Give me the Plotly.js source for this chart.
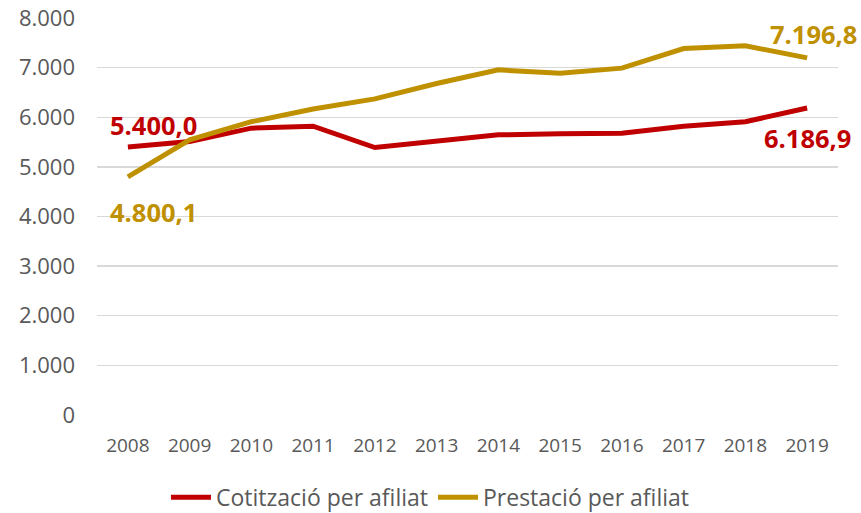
<!DOCTYPE html>
<html>
<head>
<meta charset="utf-8">
<script src="https://cdn.plot.ly/plotly-3.0.1.min.js"></script>
<style>html,body{margin:0;padding:0;background:#fff;}#chart{width:861px;height:513px;}</style>
</head>
<body>
<div id="chart"></div>
<script>
const years = ['2008','2009','2010','2011','2012','2013','2014','2015','2016','2017','2018','2019'];
const cotitzacio = [5400.0, 5510, 5780, 5820, 5390, 5510, 5645, 5665, 5680, 5820, 5910, 6186.9];
const prestacio = [4800.1, 5545, 5910, 6165, 6370, 6680, 6955, 6885, 6990, 7385, 7440, 7196.8];
const seriesNames = ['Cotització per afiliat', 'Prestació per afiliat'];
const labelCot = ['5.400,0', '6.186,9'];
const labelPre = ['4.800,1', '7.196,8'];

const red = '#C00000', gold = '#BF9000';
const traces = [
  {x: years, y: cotitzacio, name: seriesNames[0], type: 'scatter', mode: 'lines',
   line: {color: red, width: 5}},
  {x: years, y: prestacio, name: seriesNames[1], type: 'scatter', mode: 'lines',
   line: {color: gold, width: 5}}
];
function ann(idx, yv, txt, color, xa, ya, xs, ys) {
  return {xref: 'x', yref: 'y', x: idx, y: yv, text: '<b>' + txt + '</b>', showarrow: false,
    xanchor: xa, yanchor: ya, xshift: xs, yshift: ys,
    font: {family: 'Open Sans, sans-serif', size: 25.5, color: color}};
}
const last = years.length - 1;
const annotations = [
  ann(0, cotitzacio[0], labelCot[0], red, 'left', 'bottom', -20, 3),
  ann(last, cotitzacio[last], labelCot[1], red, 'left', 'top', -45, -11),
  ann(0, prestacio[0], labelPre[0], gold, 'left', 'top', -20, -16),
  ann(last, prestacio[last], labelPre[1], gold, 'left', 'bottom', -39, 5)
];
const layout = {
  width: 861, height: 513,
  margin: {l: 97, r: 23, t: 18, b: 98, autoexpand: false},
  paper_bgcolor: '#fff', plot_bgcolor: '#fff',
  separators: ',.',
  font: {family: 'Open Sans, sans-serif', size: 16, color: '#595959'},
  xaxis: {type: 'category', range: [-0.5, 11.5], showgrid: false, zeroline: false,
          showline: false, ticks: '', ticklabelstandoff: 17,
          tickfont: {size: 19, color: '#595959'}, fixedrange: true},
  yaxis: {range: [0, 8000], dtick: 1000, tickformat: ',', showgrid: true, gridcolor: '#D9D9D9',
          gridwidth: 1.3, zeroline: false, showline: false, ticks: '', ticklabelstandoff: 21,
          tickfont: {size: 22, color: '#595959'}, fixedrange: true},
  showlegend: true,
  legend: {orientation: 'h', xref: 'container', x: 0.5, xanchor: 'center', y: -0.207, yanchor: 'middle',
           font: {size: 23, color: '#595959'}, itemwidth: 40, traceorder: 'normal'},
  annotations: annotations
};
Plotly.newPlot('chart', traces, layout, {displayModeBar: false, staticPlot: true});
</script>
</body>
</html>
